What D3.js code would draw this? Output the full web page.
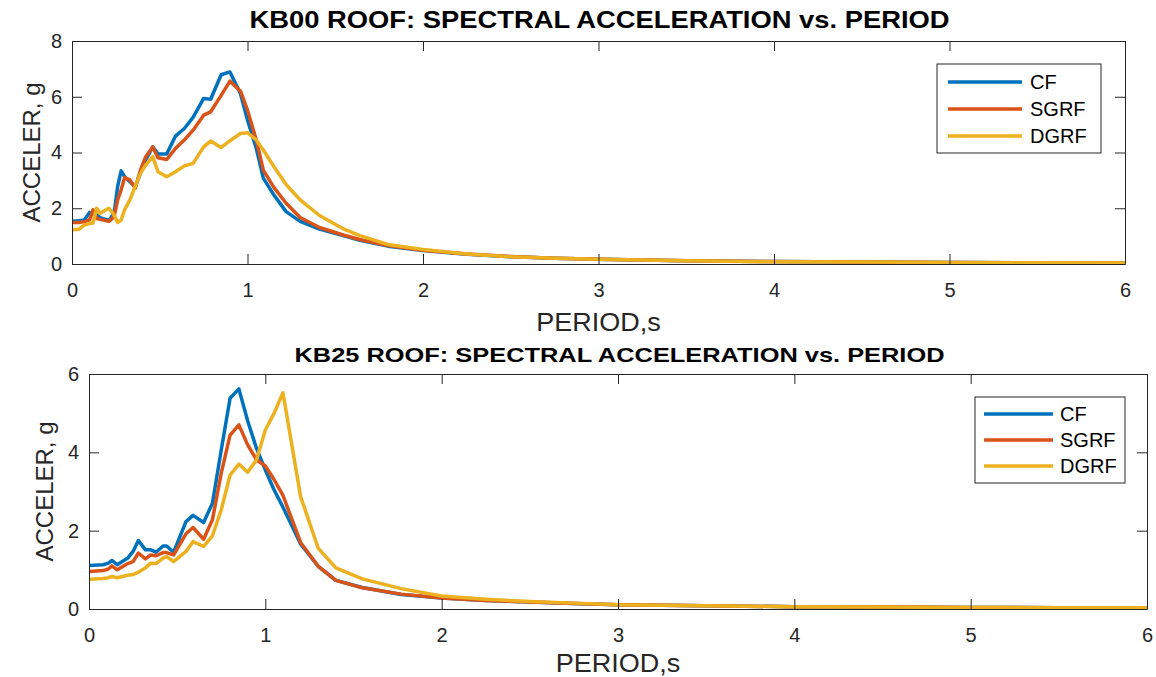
<!DOCTYPE html>
<html>
<head>
<meta charset="utf-8">
<script src="https://cdn.jsdelivr.net/npm/d3@7"></script>
<style>
  body { margin: 0; background: #fff; }
  text { font-family: "Liberation Sans", Arial, Helvetica, sans-serif; fill: #262626; }
  .axis path, .axis line { stroke: #262626; stroke-width: 1; }
  .axis text { font-size: 20px; fill: #262626; }
</style>
</head>
<body>
<div id="chart"></div>
<script>
(function(d3) {
  "use strict";

  // series shared by both panels
  var seriesNames = ["CF", "SGRF", "DGRF"];
  var colors = ["#0072BD", "#D95319", "#EDB120"];
  var xTicks = [0, 1, 2, 3, 4, 5, 6];

  // KB00 roof
  var kb00Period = [0, 0.04, 0.07, 0.10, 0.12, 0.14, 0.16, 0.21, 0.24, 0.26, 0.28, 0.30, 0.33, 0.36, 0.39, 0.42, 0.46, 0.49, 0.54, 0.59, 0.64, 0.69, 0.75, 0.79, 0.85, 0.90, 0.96, 1.00, 1.05, 1.09, 1.15, 1.22, 1.30, 1.41, 1.55, 1.64, 1.80, 2.00, 2.25, 2.50, 2.75, 3.00, 3.50, 4.00, 4.50, 5.00, 5.50, 6.00];
  var kb00CF   = [1.53, 1.55, 1.58, 1.85, 1.78, 1.76, 1.66, 1.56, 1.82, 2.78, 3.34, 3.13, 2.95, 2.78, 3.25, 3.73, 4.20, 3.95, 3.95, 4.59, 4.86, 5.26, 5.94, 5.91, 6.79, 6.89, 6.11, 5.16, 4.15, 3.08, 2.48, 1.88, 1.53, 1.25, 1.01, 0.85, 0.64, 0.48, 0.35, 0.26, 0.21, 0.17, 0.12, 0.09, 0.07, 0.055, 0.045, 0.04];
  var kb00SGRF = [1.49, 1.49, 1.52, 1.58, 1.94, 1.64, 1.60, 1.53, 1.70, 2.30, 2.66, 3.10, 3.02, 2.72, 3.37, 3.85, 4.20, 3.81, 3.75, 4.15, 4.45, 4.80, 5.34, 5.46, 6.05, 6.56, 6.20, 5.52, 4.45, 3.37, 2.75, 2.18, 1.67, 1.31, 1.03, 0.88, 0.66, 0.49, 0.36, 0.27, 0.21, 0.17, 0.12, 0.09, 0.07, 0.055, 0.045, 0.04];
  var kb00DGRF = [1.23, 1.25, 1.40, 1.45, 1.47, 2.00, 1.82, 2.00, 1.76, 1.49, 1.58, 1.95, 2.30, 2.78, 3.25, 3.55, 3.85, 3.31, 3.13, 3.31, 3.52, 3.61, 4.20, 4.41, 4.18, 4.42, 4.68, 4.71, 4.45, 4.09, 3.50, 2.85, 2.30, 1.74, 1.25, 1.02, 0.70, 0.52, 0.36, 0.26, 0.21, 0.17, 0.12, 0.08, 0.07, 0.055, 0.045, 0.04];
  var kb00YTicks = [0, 2, 4, 6, 8];

  // KB25 roof
  var kb25Period = [0, 0.08, 0.11, 0.13, 0.16, 0.22, 0.25, 0.28, 0.32, 0.35, 0.38, 0.42, 0.44, 0.48, 0.55, 0.59, 0.65, 0.70, 0.75, 0.80, 0.85, 0.90, 0.95, 1.00, 1.05, 1.10, 1.20, 1.30, 1.40, 1.55, 1.77, 2.00, 2.25, 2.50, 2.75, 3.00, 3.50, 4.00, 4.50, 5.00, 5.50, 6.00];
  var kb25CF   = [1.11, 1.13, 1.17, 1.24, 1.13, 1.30, 1.47, 1.75, 1.51, 1.51, 1.45, 1.61, 1.61, 1.45, 2.23, 2.39, 2.21, 2.70, 4.06, 5.38, 5.62, 4.80, 4.10, 3.55, 3.04, 2.60, 1.66, 1.09, 0.73, 0.55, 0.37, 0.28, 0.22, 0.18, 0.14, 0.11, 0.08, 0.06, 0.05, 0.04, 0.035, 0.03];
  var kb25SGRF = [0.96, 0.98, 1.02, 1.10, 1.00, 1.16, 1.21, 1.43, 1.28, 1.38, 1.36, 1.44, 1.44, 1.38, 1.92, 2.08, 1.78, 2.28, 3.47, 4.44, 4.70, 4.19, 3.81, 3.65, 3.30, 2.90, 1.70, 1.09, 0.73, 0.54, 0.38, 0.28, 0.22, 0.18, 0.14, 0.11, 0.08, 0.06, 0.05, 0.04, 0.035, 0.03];
  var kb25DGRF = [0.76, 0.78, 0.80, 0.83, 0.80, 0.86, 0.88, 0.94, 1.05, 1.17, 1.16, 1.30, 1.34, 1.21, 1.47, 1.72, 1.60, 1.87, 2.53, 3.42, 3.70, 3.49, 3.81, 4.57, 5.00, 5.52, 2.87, 1.55, 1.05, 0.77, 0.52, 0.33, 0.25, 0.19, 0.15, 0.11, 0.08, 0.06, 0.05, 0.04, 0.035, 0.03];
  var kb25YTicks = [0, 2, 4, 6];

  var width = 1156, height = 677;

  var panels = [
    {
      title: "KB00 ROOF: SPECTRAL ACCELERATION vs. PERIOD",
      period: kb00Period, series: [kb00CF, kb00SGRF, kb00DGRF], yTicks: kb00YTicks,
      left: 72, right: 1125, top: 41, bottom: 264,
      titleX: 599.5, titleY: 27.5, titleSize: 23, titleScale: 1.19,
      xLabelY: 331, yLabelX: 40,
      legend: { x: 937, y: 64, w: 164, h: 89, x1: 948, x2: 1022, tx: 1030, rows: [82, 109, 136] }
    },
    {
      title: "KB25 ROOF: SPECTRAL ACCELERATION vs. PERIOD",
      period: kb25Period, series: [kb25CF, kb25SGRF, kb25DGRF], yTicks: kb25YTicks,
      left: 89, right: 1147, top: 374, bottom: 609,
      titleX: 619.5, titleY: 362, titleSize: 21, titleScale: 1.21,
      xLabelY: 672, yLabelX: 53,
      legend: { x: 975, y: 397, w: 150, h: 86, x1: 984, x2: 1053, tx: 1060, rows: [414, 440, 466] }
    }
  ];

  var svg = d3.select("#chart")
    .append("svg")
    .attr("width", width)
    .attr("height", height);

  panels.forEach(function(p, k) {
    var x = d3.scaleLinear().domain([0, 6]).range([p.left, p.right]);
    var yMax = p.yTicks[p.yTicks.length - 1];
    var y = d3.scaleLinear().domain([0, yMax]).range([p.bottom, p.top]);
    var g = svg.append("g").attr("id", "panel" + k);

    // lines, clipped to the box
    var clipId = "clip" + k;
    g.append("clipPath").attr("id", clipId)
      .append("rect")
      .attr("x", p.left).attr("y", p.top - 2)
      .attr("width", p.right - p.left).attr("height", p.bottom - p.top + 4);

    var line = d3.line()
      .x(function(d) { return x(d[0]); })
      .y(function(d) { return y(d[1]); });

    g.append("g").attr("clip-path", "url(#" + clipId + ")")
      .selectAll("path")
      .data(p.series)
      .enter()
      .append("path")
      .attr("d", function(s) { return line(s.map(function(v, i) { return [p.period[i], v]; })); })
      .attr("fill", "none")
      .attr("stroke", function(d, i) { return colors[i]; })
      .attr("stroke-width", 3.5)
      .attr("stroke-linejoin", "round");

    // axes, ticks pointing inward like matlab
    g.append("g").attr("class", "axis")
      .attr("transform", `translate(0, ${p.bottom})`)
      .call(d3.axisBottom(x).tickValues(xTicks).tickSizeInner(-10).tickSizeOuter(0).tickPadding(19).tickFormat(d3.format("d")));
    g.append("g").attr("class", "axis")
      .attr("transform", `translate(0, ${p.top})`)
      .call(d3.axisTop(x).tickValues(xTicks).tickSizeInner(-10).tickSizeOuter(0).tickFormat(""));
    g.append("g").attr("class", "axis")
      .attr("transform", `translate(${p.left}, 0)`)
      .call(d3.axisLeft(y).tickValues(p.yTicks).tickSizeInner(-10).tickSizeOuter(0).tickPadding(10).tickFormat(d3.format("d")));
    g.append("g").attr("class", "axis")
      .attr("transform", `translate(${p.right}, 0)`)
      .call(d3.axisRight(y).tickValues(p.yTicks).tickSizeInner(-10).tickSizeOuter(0).tickFormat(""));

    // title
    g.append("text")
      .attr("transform", `translate(${p.titleX}, ${p.titleY}) scale(${p.titleScale}, 1)`)
      .attr("text-anchor", "middle")
      .style("font-size", p.titleSize + "px")
      .style("font-weight", "bold")
      .style("fill", "#000")
      .text(p.title);

    // axis labels
    g.append("text")
      .attr("transform", `translate(${(p.left + p.right) / 2}, ${p.xLabelY}) scale(1.08, 1)`)
      .attr("text-anchor", "middle")
      .style("font-size", "25px")
      .text("PERIOD,s");
    g.append("text")
      .attr("transform", `translate(${p.yLabelX}, ${(p.top + p.bottom) / 2}) rotate(-90)`)
      .attr("text-anchor", "middle")
      .style("font-size", "24px")
      .text("ACCELER, g");

    // legend
    var L = p.legend;
    var lg = g.append("g").attr("class", "legend");
    lg.append("rect")
      .attr("x", L.x).attr("y", L.y)
      .attr("width", L.w).attr("height", L.h)
      .attr("fill", "#fff")
      .attr("stroke", "#262626")
      .attr("stroke-width", 1);
    lg.selectAll("line")
      .data(seriesNames)
      .enter()
      .append("line")
      .attr("x1", L.x1).attr("x2", L.x2)
      .attr("y1", function(d, i) { return L.rows[i]; })
      .attr("y2", function(d, i) { return L.rows[i]; })
      .attr("stroke", function(d, i) { return colors[i]; })
      .attr("stroke-width", 3.5);
    lg.selectAll("text")
      .data(seriesNames)
      .enter()
      .append("text")
      .attr("x", L.tx)
      .attr("y", function(d, i) { return L.rows[i] + 7; })
      .style("font-size", "20px")
      .style("fill", "#000")
      .text(function(d) { return d; });
  });

})(d3);
</script>
</body>
</html>
